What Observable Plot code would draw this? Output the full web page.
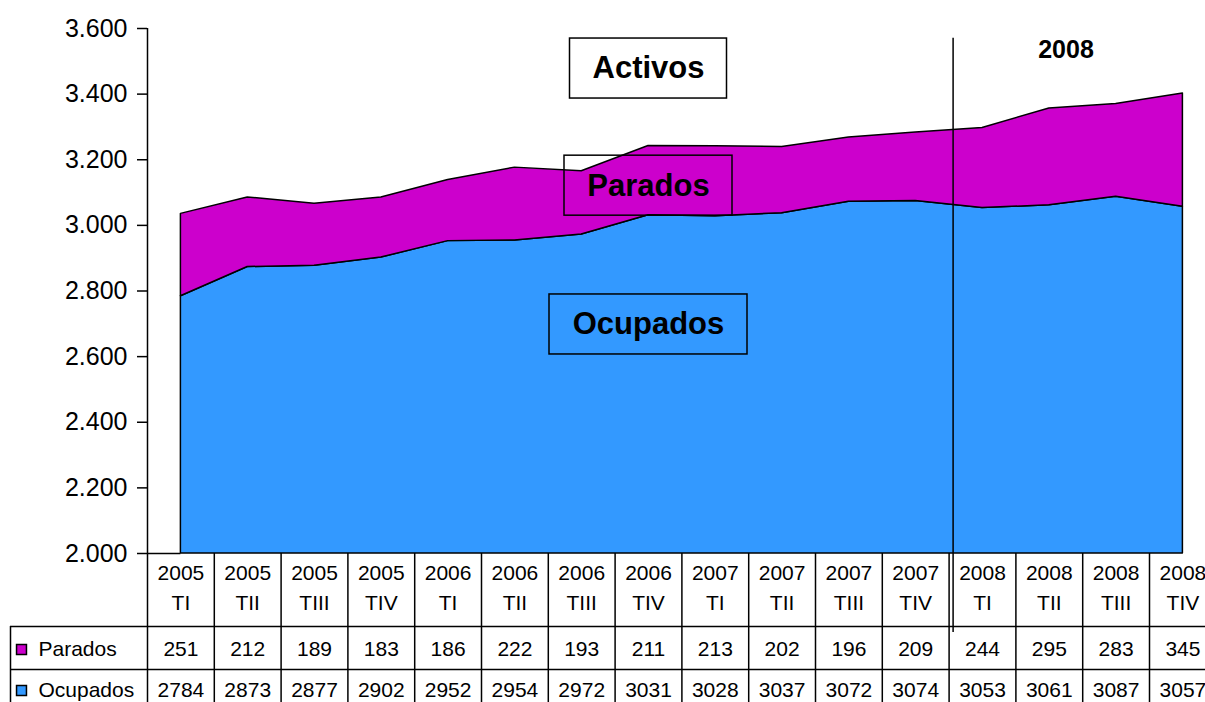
<!DOCTYPE html>
<html><head><meta charset="utf-8">
<script src="https://cdn.jsdelivr.net/npm/d3@7"></script>
<script src="https://cdn.jsdelivr.net/npm/@observablehq/plot@0.6"></script>
<style>html,body{margin:0;padding:0;background:#fff;overflow:hidden}</style>
</head><body><div id="chart"></div>
<script>
// ---- data ----
const years = ["2005","2005","2005","2005","2006","2006","2006","2006","2007","2007","2007","2007","2008","2008","2008","2008"];
const quarters = ["TI","TII","TIII","TIV","TI","TII","TIII","TIV","TI","TII","TIII","TIV","TI","TII","TIII","TIV"];
const parados = [251,212,189,183,186,222,193,211,213,202,196,209,244,295,283,345];
const ocupados = [2784,2873,2877,2902,2952,2954,2972,3031,3028,3037,3072,3074,3053,3061,3087,3057];
const yTicks = [2000,2200,2400,2600,2800,3000,3200,3400,3600];
const seriesNames = ["Parados","Ocupados"];
const seriesColors = ["#CC00CC","#3399FF"];
const annotations = [
  {label:"Activos", x:7, y:3478, w:157, h:60, fill:"white"},
  {label:"Parados", x:7, y:3121, w:168, h:60, fill:"none"},
  {label:"Ocupados", x:7, y:2698, w:198, h:60, fill:"none"}
];
const yearMark = {label:"2008", x:13.25, y:3533, lineTop:3570, lineBottom:1759, at:11.5};

// ---- layout/style ----
const colW = 66.8, x0 = 147;
const fmt = d3.formatLocale({decimal:",", thousands:".", grouping:[3], currency:["","€"]}).format(",");
const rows = years.map((yr,i)=>({i, year:yr, q:quarters[i], par:parados[i], ocu:ocupados[i], act:ocupados[i]+parados[i]}));
const base = yTicks[0];
const rowDy = {Parados:96, Ocupados:137};
const valueKey = {Parados:"par", Ocupados:"ocu"};

const marks = [
  Plot.areaY(rows, {x:"i", y1:()=>base, y2:"ocu", fill:seriesColors[1], stroke:"black", strokeWidth:1.5}),
  Plot.areaY(rows, {x:"i", y1:"ocu", y2:"act", fill:seriesColors[0], stroke:"black", strokeWidth:1.5}),
  // axis line and table grid
  Plot.ruleX([-0.5], {stroke:"black", strokeWidth:1.5}),
  Plot.ruleY([base], {x1:-0.5, stroke:"black", strokeWidth:1.5}),
  Plot.ruleX(rows, {x:d=>d.i+0.5, y1:base, stroke:"black", strokeWidth:1.5}),
  Plot.ruleY([base], {dy:73, stroke:"black", strokeWidth:1.5}),
  Plot.ruleY([base], {dy:116, stroke:"black", strokeWidth:1.5}),
  Plot.ruleX([-0.5], {y1:base, dx:-137, dy:73, stroke:"black", strokeWidth:1.5}),
  // y axis
  Plot.axisY(yTicks, {dx:137, tickSize:10, tickPadding:10, tickFormat:fmt, fontSize:25, label:null, strokeWidth:1.5, stroke:"black", fill:"black"}),
  // table header
  Plot.text(rows, {x:"i", y:base, text:"year", dy:20, fontSize:21}),
  Plot.text(rows, {x:"i", y:base, text:"q", dy:50, fontSize:21}),
  // year separator
  Plot.ruleX([yearMark.at], {y1:yearMark.lineTop, y2:yearMark.lineBottom, dx:4, stroke:"black", strokeWidth:1.5}),
  Plot.text([yearMark.label], {x:yearMark.x, y:yearMark.y, fontSize:25, fontWeight:"bold"})
];
seriesNames.forEach((s,k)=>{
  marks.push(Plot.text(rows, {x:"i", y:base, text:d=>String(d[valueKey[s]]), dy:rowDy[s], fontSize:21}));
  marks.push(Plot.dot([s], {x:-0.5, y:base, dx:-126, dy:rowDy[s], symbol:"square", r:5.6, fill:seriesColors[k], stroke:"black", strokeWidth:1.5}));
  marks.push(Plot.text([s], {x:-0.5, y:base, dx:-109, dy:rowDy[s], textAnchor:"start", fontSize:21}));
});
annotations.forEach(a=>{
  marks.push(Plot.rect([a], {x1:"x", x2:"x", y1:"y", y2:"y", insetLeft:-a.w/2, insetRight:-a.w/2, insetTop:-a.h/2, insetBottom:-a.h/2, fill:a.fill, stroke:"black", strokeWidth:1.5}));
  marks.push(Plot.text([a], {x:"x", y:"y", text:"label", fontSize:31, fontWeight:"bold"}));
});

const chart = Plot.plot({
  width:1205, height:702,
  marginLeft:10, marginRight:0, marginTop:28, marginBottom:0,
  x:{type:"linear", domain:[-0.5,15.5], range:[x0, x0+16*colW], axis:null},
  y:{type:"linear", domain:[yTicks[0], yTicks[yTicks.length-1]], range:[553,28], axis:null},
  style:{fontFamily:"'Liberation Sans', Arial, sans-serif", fontSize:"21px", color:"black", background:"white", overflow:"hidden"},
  marks
});
document.getElementById("chart").appendChild(chart);
</script>
</body></html>
